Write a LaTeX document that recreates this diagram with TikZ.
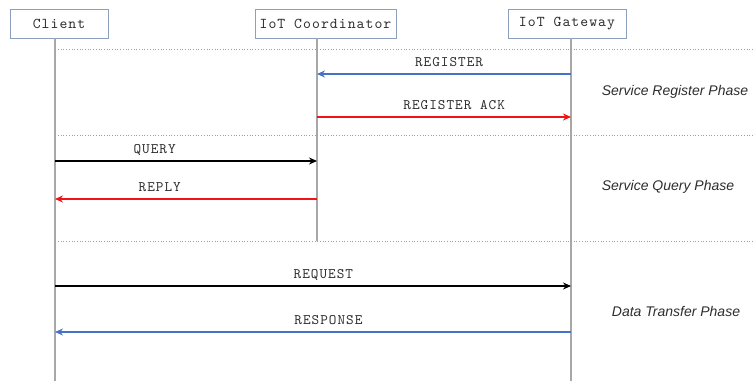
\documentclass[tikz,border=0pt]{standalone}
\usepackage{fontspec}
\setsansfont{Liberation Sans}
\newfontfamily\courierlike{lmmono10-regular.otf}[LetterSpace=7]
\usetikzlibrary{arrows.meta}
\usetikzlibrary{positioning}

\definecolor{boxedge}{RGB}{140,160,190}
\definecolor{lifegray}{RGB}{168,168,168}
\definecolor{msgblue}{RGB}{68,114,196}
\definecolor{msgred}{RGB}{240,20,20}
\definecolor{txtgray}{RGB}{45,45,45}

\newcommand{\monotext}[1]{\courierlike\fontsize{#1}{#1}\selectfont}

\begin{document}
\begin{tikzpicture}[x=1pt, y=-1pt]

\tikzset{actor/.style={draw=boxedge, line width=0.8pt, minimum height=29pt,
                       inner sep=0pt, text=txtgray, font=\monotext{15}},
         lifeline/.style={draw=lifegray, line width=2.6pt},
         separator/.style={draw=gray!75, dotted, line width=0.7pt},
         msg/.style={line width=1.6pt, -{Stealth[length=8pt, width=7pt]}},
         msg-label/.style={inner sep=0pt, above=7pt, text depth=0pt, text=txtgray,
                           font=\monotext{14.5}},
         phase-label/.style={text=txtgray, font=\sffamily\itshape\fontsize{14}{16}\selectfont}}

\useasboundingbox (0,0) rectangle (753,381);

% participants
\node (client) [actor, minimum width=98pt]  at (59,23.5)    {Client};
\node (coord)  [actor, minimum width=141pt] at (325.5,23.5) {IoT Coordinator};
\node (gate)   [actor, minimum width=118pt] at (567,23.5)   {IoT Gateway};

\coordinate (client-end) at (55,381);
\coordinate (coord-end)  at (317,241);
\coordinate (gate-end)   at (571,381);

\draw[lifeline] (client.south -| client-end) -- (client-end);
\draw[lifeline] (coord.south -| coord-end) -- (coord-end);
\draw[lifeline] (gate.south -| gate-end) -- (gate-end);

% phase separators
\foreach \y in {49,135,241}
  \draw[separator] (58,\y) -- (753,\y);

% service register
\draw[msg, msgblue] (gate-end |- 0,74) -- node[msg-label, pos=0.48] {REGISTER} (coord-end |- 0,74);
\draw[msg, msgred] (coord-end |- 0,117) -- node[msg-label, pos=0.54] {REGISTER ACK} (gate-end |- 0,117);

% service query
\draw[msg, black] (client-end |- 0,161) -- node[msg-label, pos=0.38] {QUERY} (coord-end |- 0,161);
\draw[msg, msgred] (coord-end |- 0,199) -- node[msg-label, pos=0.6] {REPLY} (client-end |- 0,199);

% data transfer
\draw[msg, black] (client-end |- 0,286) -- node[msg-label, pos=0.52] {REQUEST} (gate-end |- 0,286);
\draw[msg, msgblue] (gate-end |- 0,332) -- node[msg-label, pos=0.47] {RESPONSE} (client-end |- 0,332);

\node (reg-phase)   [phase-label] at (675,92)  {Service Register Phase};
\node (query-phase) [phase-label] at (668,187) {Service Query Phase};
\node (data-phase)  [phase-label] at (676,311) {Data Transfer Phase};

\end{tikzpicture}
\end{document}
